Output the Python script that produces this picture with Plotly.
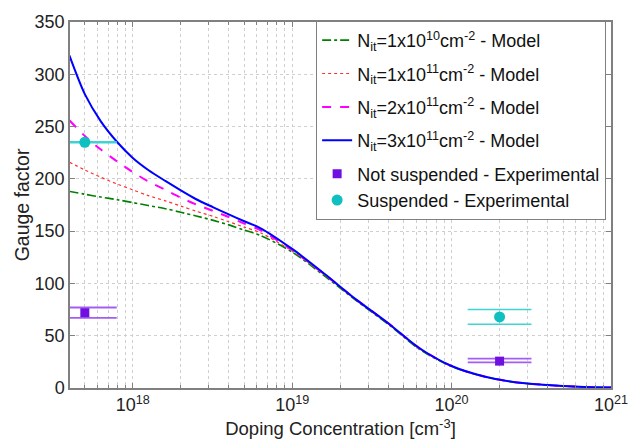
import plotly.graph_objects as go

# ---- data ----
doping = [4e17, 5e17, 6.3e17, 8e17, 1e18, 1.25e18, 1.6e18, 2e18, 2.5e18, 3.2e18, 4e18, 5e18,
          6.3e18, 1e19, 1.6e19, 2.5e19, 4e19, 6.3e19, 1e20, 1.6e20, 2.5e20, 4e20, 6.3e20, 1e21]

gf_nit_1e10 = [188, 185.3, 182.6, 180, 177.3, 174.5, 171.5, 168, 164.5, 160.3, 156, 151,
               146, 130, 107, 84, 61, 37, 20.5, 11, 5.5, 2.8, 1.2, 0.4]
gf_nit_1e11 = [216, 208.5, 201.5, 195, 189.5, 184, 179, 174, 169, 164, 159, 153.8,
               148.5, 131, 108, 84.5, 61.5, 37.5, 20.8, 11, 5.5, 2.8, 1.2, 0.4]
gf_nit_2e11 = [256, 241, 228, 216.5, 206.5, 197.5, 189.5, 182, 175.5, 169.3, 163.5, 157.2,
               151, 132, 108.5, 85, 62, 38, 21, 11, 5.5, 2.8, 1.2, 0.4]
gf_nit_3e11 = [318, 281, 255, 235, 220, 208.5, 198, 189, 180.5, 172.8, 166, 159.5,
               153, 133, 109, 85, 62, 38, 21, 11, 5.5, 2.8, 1.2, 0.4]

exp_doping = [5e17, 2e20]
notsusp_gf = [72, 25.7]
notsusp_lo = [67, 24.5]
notsusp_hi = [77, 28]
susp_gf = [235, 68]
susp_lo = [234.5, 61]
susp_hi = [235.5, 75]

x_ticks = [1e18, 1e19, 1e20, 1e21]
x_ticktext = ["10<sup>18</sup>", "10<sup>19</sup>", "10<sup>20</sup>", "10<sup>21</sup>"]

model_names = [
    "N<sub>it</sub>=1x10<sup>10</sup>cm<sup>-2</sup> - Model",
    "N<sub>it</sub>=1x10<sup>11</sup>cm<sup>-2</sup> - Model",
    "N<sub>it</sub>=2x10<sup>11</sup>cm<sup>-2</sup> - Model",
    "N<sub>it</sub>=3x10<sup>11</sup>cm<sup>-2</sup> - Model",
]

CAP = 10 ** 0.2  # half-width of the error caps, in log decades

fig = go.Figure()

styles = [
    dict(color="#008000", width=1.6, dash="dashdot", shape="spline", smoothing=0.8),
    dict(color="#ff3030", width=1.2, dash="dot", shape="spline", smoothing=0.8),
    dict(color="#ff00ff", width=2, dash="dash", shape="spline", smoothing=0.8),
    dict(color="#0000ff", width=2, dash="solid", shape="spline", smoothing=0.8),
]
for i, (name, ys, st) in enumerate(zip(model_names,
                                       [gf_nit_1e10, gf_nit_1e11, gf_nit_2e11, gf_nit_3e11], styles)):
    fig.add_trace(go.Scatter(x=doping, y=ys, mode="lines", name=name, line=st,
                             legendgroup="m%d" % i))

def caps(xs, lo, hi, color, width):
    for x, l, h in zip(xs, lo, hi):
        for yv in (l, h):
            fig.add_trace(go.Scatter(x=[x / CAP, x * CAP], y=[yv, yv], mode="lines",
                                     line=dict(color=color, width=width),
                                     showlegend=False, hoverinfo="skip"))

caps(exp_doping, notsusp_lo, notsusp_hi, "#a35cf5", 1.8)
caps(exp_doping, susp_lo, susp_hi, "#3fd3d3", 1.5)

fig.add_trace(go.Scatter(x=exp_doping, y=notsusp_gf, mode="markers",
                         name="Not suspended - Experimental", legendgroup="exp",
                         marker=dict(symbol="square", size=9, color="#7010e0")))
fig.add_trace(go.Scatter(x=exp_doping, y=susp_gf, mode="markers",
                         name="Suspended - Experimental", legendgroup="exp",
                         marker=dict(symbol="circle", size=11, color="#10bfbf")))

minor_vals = [float(m) * 10.0 ** e for e in range(17, 21) for m in range(2, 10)]

axis_common = dict(showline=True, linecolor="#808080", linewidth=1.5, mirror="ticks",
                   ticks="inside", tickcolor="#808080", ticklen=5,
                   showgrid=True, gridcolor="#cfcfcf", griddash="dot", gridwidth=1,
                   zeroline=False, tickfont=dict(size=18, color="#222"))

fig.update_layout(
    width=640, height=448,
    margin=dict(l=70, r=27, t=16, b=60),
    paper_bgcolor="white", plot_bgcolor="white",
    font=dict(family="Liberation Sans, Arial, sans-serif", color="#222"),
    xaxis=dict(type="log", range=[17.606, 21], tickvals=x_ticks, ticktext=x_ticktext,
               title=dict(text="Doping Concentration [cm<sup>-3</sup>]", font=dict(size=18.5), standoff=8),
               minor=dict(tickvals=minor_vals, ticks="inside", ticklen=3, tickcolor="#808080",
                          showgrid=True, gridcolor="#cfcfcf", griddash="dot"),
               **axis_common),
    yaxis=dict(range=[0, 350], dtick=50,
               title=dict(text="Gauge factor", font=dict(size=19.5), standoff=0),
               **axis_common),
    legend=dict(x=0.991, y=1.003, xanchor="right", yanchor="top",
                bgcolor="white", bordercolor="#808080", borderwidth=1,
                font=dict(size=18, color="#111"), tracegroupgap=7, itemwidth=30),
    showlegend=True,
)

fig.write_html("out.html")
